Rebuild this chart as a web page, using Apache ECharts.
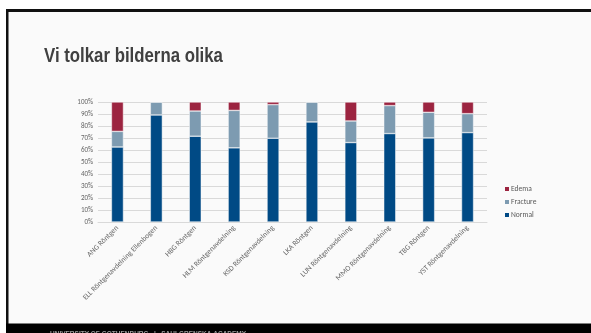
<!DOCTYPE html>
<html><head><meta charset="utf-8">
<script src="https://cdn.jsdelivr.net/npm/echarts@6/dist/echarts.min.js"></script>
<style>html,body{margin:0;padding:0;background:#fff}#c{width:591px;height:333px}</style>
</head><body><div id="c"></div>
<script>
const categories = ["ANG Röntgen","ELL Röntgenavdelning Ellenbogen","HBG Röntgen","HLM Röntgenavdelning","KSD Röntgenavdelning","LKA Röntgen","LUN Röntgenavdelning","MMO Röntgenavdelning","TBG Röntgen","YST Röntgenavdelning"];
const normal   = [62.5, 89.2, 71.5, 61.8, 69.8, 83.4, 66.2, 73.7, 70.1, 74.5];
const fracture = [13.0, 10.8, 21.0, 31.2, 28.0, 16.6, 18.0, 23.3, 21.3, 15.8];
const edema    = [24.5, 0, 7.5, 7.0, 2.2, 0, 15.8, 3.0, 8.6, 9.7];
const yTicks = [0,10,20,30,40,50,60,70,80,90,100];

const chart = echarts.init(document.getElementById('c'), null, {renderer:'canvas'});
const font = 'Carlito, Calibri, "Liberation Sans", sans-serif';
chart.setOption({
  animation:false,
  backgroundColor:'#ffffff',
  graphic:[
    {type:'rect', shape:{x:6,y:9,width:600,height:330}, style:{fill:'#fafafa'}, z:-10},
    {type:'rect', shape:{x:6,y:9,width:600,height:3}, style:{fill:'#111'}, z:-9},
    {type:'rect', shape:{x:6,y:9,width:2.5,height:330}, style:{fill:'#111'}, z:-9},
    {type:'rect', shape:{x:6,y:323.5,width:600,height:12}, style:{fill:'#000'}, z:-9},
    {type:'text', x:50, y:331, style:{text:'UNIVERSITY OF GOTHENBURG   |   SAHLGRENSKA ACADEMY', fill:'#9a9a9a', fontSize:6.5, fontWeight:'bold', fontFamily:'"Liberation Sans", sans-serif'}, z:-8},
    {type:'text', x:44, y:46, scaleX:0.84, style:{text:'Vi tolkar bilderna olika', fill:'#404040', fontSize:20, fontWeight:'bold', fontFamily:'"Liberation Sans", Arial, sans-serif'}, z:5}
  ],
  legend:{orient:'vertical', left:498, top:180, itemWidth:6, itemHeight:6, itemGap:5,
    data:['Edema','Fracture','Normal'], icon:'rect',
    textStyle:{fontSize:7.5, color:'#595959', padding:[0,0,0,-4], fontFamily:font}},
  grid:{left:98, right:104, top:102, bottom:111},
  xAxis:{type:'category', data:categories,
    axisLine:{lineStyle:{color:'#d9d9d9'}}, axisTick:{show:false},
    axisLabel:{rotate:45, interval:0, margin:5, fontSize:7.5, color:'#666', fontFamily:font}},
  yAxis:{type:'value', min:0, max:100, interval:10,
    axisLabel:{formatter:v=>v+'%', margin:5, fontSize:7, color:'#666', fontFamily:font},
    splitLine:{lineStyle:{color:'#d9d9d9', width:1}},
    axisLine:{show:false}, axisTick:{show:false}},
  series:[
    {name:'Normal', type:'bar', stack:'s', barWidth:12, data:normal, itemStyle:{color:'#004a85', borderColor:'#fafafa', borderWidth:0.5}},
    {name:'Fracture', type:'bar', stack:'s', data:fracture, itemStyle:{color:'#7d9bb1', borderColor:'#fafafa', borderWidth:0.5}},
    {name:'Edema', type:'bar', stack:'s', data:edema, itemStyle:{color:'#9c2440', borderColor:'#fafafa', borderWidth:0.5}}
  ]
});
</script></body></html>
